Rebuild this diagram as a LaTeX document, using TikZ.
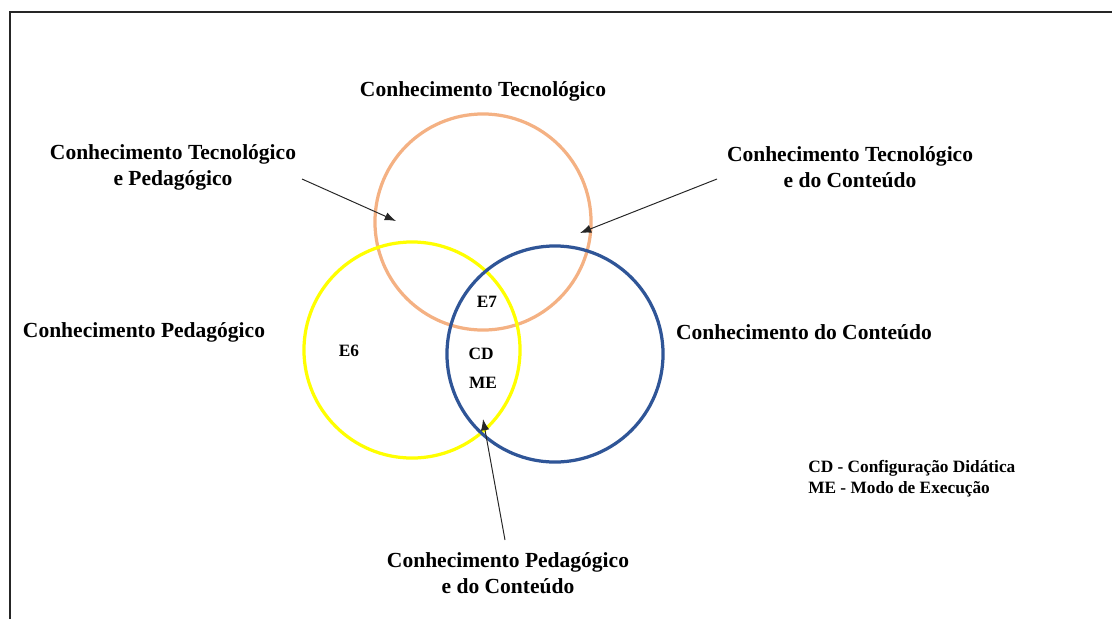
\documentclass[tikz,border=0pt]{standalone}
\usepackage{fontspec}
\setmainfont{Liberation Serif}
\usetikzlibrary{arrows.meta}
\definecolor{TecOrange}{HTML}{F4B183}
\definecolor{PedYellow}{HTML}{FFFF00}
\definecolor{ConBlue}{HTML}{2F5597}
\definecolor{FrameGray}{HTML}{262626}
\tikzset{
  knowcircle/.style={circle, draw=#1, line width=2.3pt,
                minimum size=5.4cm, inner sep=0pt},
  biglabel/.style={font=\fontsize{15.3}{18.4}\selectfont\bfseries,
                align=center, inner sep=0pt},
  smalllabel/.style={font=\fontsize{12.3}{14.9}\selectfont\bfseries,
                inner sep=0pt},
  pointer/.style={-{Latex[length=8pt,width=6pt]}, line width=0.7pt, black!85},
}
\begin{document}
\begin{tikzpicture}[x=0.025cm, y=-0.025cm]
    % Coordinate map (pixels, y down):
    % (tec) at (483, 222) -- orange circle
    % (ped) at (412, 350) -- yellow circle
    % (con) at (555, 354) -- blue circle
    \useasboundingbox (0,0) rectangle (1112,619);
    \draw[FrameGray, line width=1.4pt] (10,619) -- (10,12) -- (1112,12);

    \node[knowcircle=TecOrange] (tec) at (483, 222) {};
    \node[knowcircle=PedYellow] (ped) at (412, 350) {};
    \node[knowcircle=ConBlue] (con) at (555, 354) {};

    \node[biglabel] (tecl) at (483, 91) {Conhecimento Tecnológico};
    \node[biglabel] (tpl) at (173, 167) {Conhecimento Tecnológico\\e Pedagógico};
    \node[biglabel] (tcl) at (850, 167) {Conhecimento Tecnológico\\e do Conteúdo};
    \node[biglabel] (pedl) at (144, 332) {Conhecimento Pedagógico};
    \node[biglabel] (conl) at (804, 332) {Conhecimento do Conteúdo};
    \node[biglabel] (pcl) at (508, 573) {Conhecimento Pedagógico\\e do Conteúdo};

    \node[smalllabel] (e6) at (349, 351) {E6};
    \node[smalllabel] (e7) at (487, 302) {E7};
    \node[smalllabel] (cd) at (481, 354) {CD};
    \node[smalllabel] (me) at (483, 383) {ME};
    \node[smalllabel, align=left, anchor=west] (legend) at (808, 478.5)
        {CD - Configuração Didática\\ME - Modo de Execução};

    % arrow ends
    \coordinate (tpfrom) at (302, 179);
    \coordinate (tpto) at (396, 221);
    \coordinate (tcfrom) at (717, 179);
    \coordinate (tcto) at (580, 233);
    \coordinate (pcfrom) at (505, 540);
    \coordinate (pcto) at (483, 419);

    \draw[pointer] (tpfrom) -- (tpto);
    \draw[pointer] (tcfrom) -- (tcto);
    \draw[pointer] (pcfrom) -- (pcto);
\end{tikzpicture}
\end{document}
